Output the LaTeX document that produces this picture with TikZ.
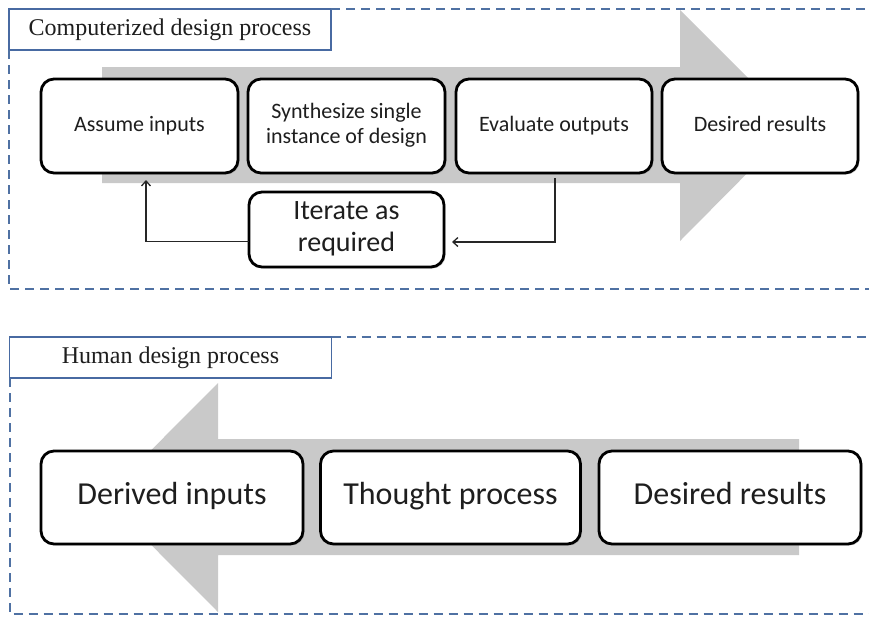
\documentclass[tikz,border=0pt]{standalone}
\usepackage{fontspec}
\setmainfont{Liberation Serif}
\newfontfamily\calfont{Carlito}
\usetikzlibrary{shadows,arrows.meta,calc}
\definecolor{framecol}{RGB}{79,113,163}
\definecolor{titlecol}{RGB}{72,106,162}
\definecolor{arrowgray}{RGB}{201,201,201}
\definecolor{txtcol}{RGB}{30,30,30}
\begin{document}
\begin{tikzpicture}[x=1pt,y=-1pt,
  frame/.style={draw=framecol, line width=2pt, dash pattern=on 9pt off 6pt},
  titlebox/.style={draw=titlecol, line width=1.8pt, fill=white, outer sep=0pt,
    minimum width=322pt, minimum height=41pt, inner sep=0pt, text=txtcol,
    font=\fontsize{24}{26}\selectfont},
  stepbox/.style={draw=black, line width=2.8pt, rounded corners=13pt, fill=white,
    outer sep=0pt, inner sep=0pt, align=center, text=txtcol,
    drop shadow={shadow xshift=1.5pt, shadow yshift=-1.5pt, opacity=0.35}},
  small/.style={font=\calfont\fontsize{22}{25}\selectfont},
  mid/.style={font=\calfont\fontsize{28}{32}\selectfont},
  big/.style={font=\calfont\fontsize{32}{36}\selectfont},
  bigarrow/.style={fill=arrowgray, draw=none},
  conn/.style={draw=black!85, line width=1.3pt, -{Straight Barb[length=5pt,width=9pt]}}
]
\useasboundingbox (0,0) rectangle (869,619);

% ---------- top section ----------
\fill[bigarrow] (102,67) -- (680,67) -- (680,10) -- (795,125) -- (680,241) -- (680,183) -- (102,183) -- cycle;

\node[titlebox] (t1) at (170,29.5) {Computerized design process};
\draw[frame] (t1.north east) -- (880,9);
\draw[frame] (t1.south west) -- (9,289) -- (880,289);

\node[stepbox, small, minimum width=197pt, minimum height=94pt] (a1) at (139.5,126) {\strut Assume inputs};
\node[stepbox, small, minimum width=197pt, minimum height=94pt] (a2) at (346.5,126) {\strut Synthesize single\\\strut instance of design};
\node[stepbox, small, minimum width=196pt, minimum height=94pt] (a3) at (554,126) {\strut Evaluate outputs};
\node[stepbox, small, minimum width=196pt, minimum height=94pt] (a4) at (760,126) {\strut Desired results};
\node[stepbox, mid, minimum width=195pt, minimum height=75pt] (it) at (346.5,229.5) {\strut Iterate as\\\strut required};

\draw[conn] ([yshift=-12pt]it.west) -| ([xshift=6.5pt,yshift=-7pt]a1.south);
\draw[conn] ([xshift=1pt,yshift=-5pt]a3.south) |- ([xshift=8pt,yshift=-12.5pt]it.east);

% ---------- bottom section ----------
\fill[bigarrow] (799,439) -- (218,439) -- (218,383) -- (104,497.5) -- (218,612) -- (218,555) -- (799,555) -- cycle;

\node[titlebox] (t2) at (170.5,357.5) {Human design process};
\draw[frame] (t2.north east) -- (880,337);
\draw[frame] (t2.south west) -- (9.5,614) -- (880,614);

\node[stepbox, big, minimum width=262pt, minimum height=93pt] (b1) at (172,497.5) {\strut Derived inputs};
\node[stepbox, big, minimum width=260pt, minimum height=93pt] (b2) at (450.5,497.5) {\strut Thought process};
\node[stepbox, big, minimum width=262pt, minimum height=93pt] (b3) at (730,497.5) {\strut Desired results};
\end{tikzpicture}
\end{document}
